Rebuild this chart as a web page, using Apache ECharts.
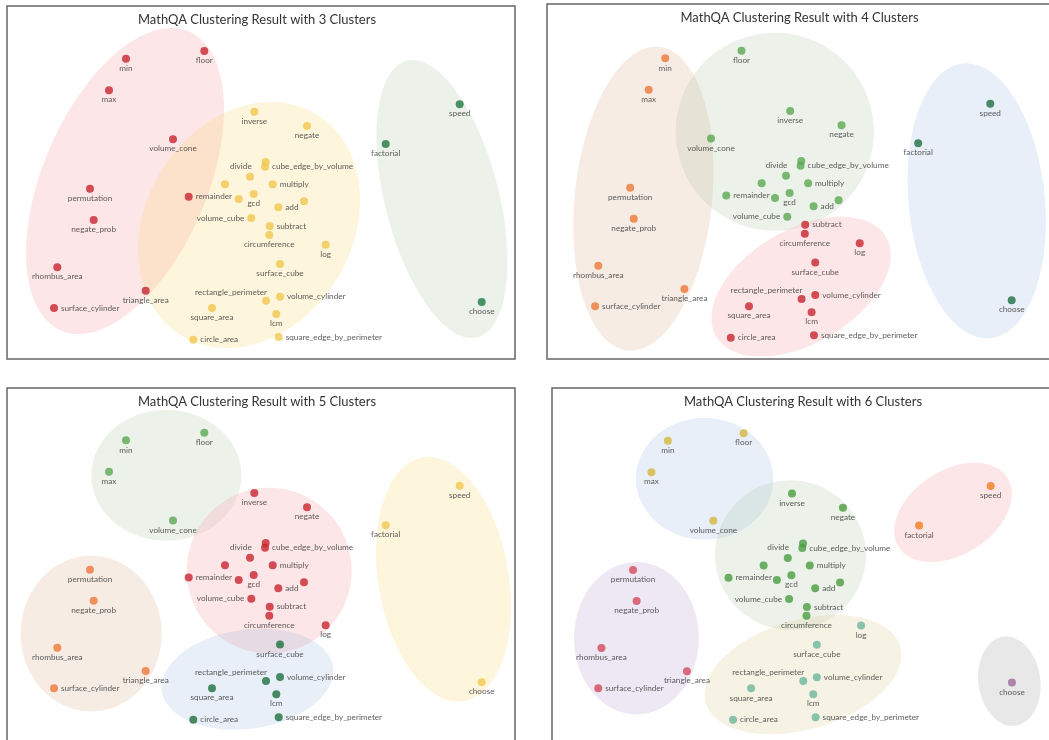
<!DOCTYPE html>
<html>
<head>
<meta charset="utf-8">
<script src="https://cdn.jsdelivr.net/npm/echarts@6/dist/echarts.min.js"></script>
<style>
  html, body { margin: 0; padding: 0; background: #fff; }
  #chart { width: 1049px; height: 740px; }
</style>
</head>
<body>
<div id="chart"></div>
<script>
// Same 2-D embedding is reused in every panel; only the cluster split changes.
const POINT_NAMES = [
  "min", "floor", "max", "volume_cone", "permutation", "negate_prob", "rhombus_area",
  "triangle_area", "surface_cylinder", "remainder", "inverse", "negate", "divide",
  "cube_edge_by_volume", "", "", "multiply", "", "gcd", "add", "", "volume_cube",
  "subtract", "circumference", "log", "surface_cube", "rectangle_perimeter",
  "volume_cylinder", "lcm", "square_area", "circle_area", "square_edge_by_perimeter",
  "factorial", "speed", "choose"
];
const POINT_X = [
  126.0, 204.3, 109.0, 173.0, 90.0, 93.7, 57.3, 145.7, 54.0, 188.7, 254.3, 307.0, 265.7,
  265.0, 250.0, 225.0, 272.7, 238.7, 253.7, 278.3, 304.0, 251.3, 269.7, 269.3, 325.7,
  280.0, 266.0, 280.0, 276.3, 212.0, 193.3, 278.7, 385.7, 459.7, 481.7
];
const POINT_Y = [
  58.7, 51.0, 90.3, 139.3, 188.7, 220.0, 267.3, 290.7, 308.0, 196.7, 111.7, 126.0, 162.0,
  166.7, 176.7, 184.3, 184.3, 199.0, 194.0, 207.3, 201.3, 218.0, 226.0, 235.0, 244.7,
  264.0, 300.7, 296.7, 314.0, 308.0, 339.7, 337.0, 144.0, 104.3, 302.0
];

const CLUSTERS_3 = [0,0,0,0,0,0,0,0,0,0, 1,1,1,1,1,1,1,1,1,1,1,1,1,1,1,1,1,1,1,1,1,1, 2,2,2];
const CLUSTERS_4 = [0,1,0,1,0,0,0,0,0,1, 1,1,1,1,1,1,1,1,1,1,1,1, 2,2,2,2,2,2,2,2,2,2, 3,3,3];
const CLUSTERS_5 = [0,0,0,0, 1,1,1,1,1, 2,2,2,2,2,2,2,2,2,2,2,2,2,2,2,2, 3,3,3,3,3,3,3, 4,4,4];
const CLUSTERS_6 = [0,0,0,0, 1,1,1,1,1, 2,2,2,2,2,2,2,2,2,2,2,2,2,2,2, 3,3,3,3,3,3,3,3, 4,4, 5];

// cluster hulls: [centre x, centre y, half width, half height, tilt (correlation)]
const ELLIPSES_3 = [[125, 181, 99, 153, -0.47], [249, 225, 111, 123, -0.2], [442, 199, 65.5, 139, 0.45]];
const ELLIPSES_4 = [[103.5, 199.8, 72, 152.8, -0.18], [238.5, 132.5, 101.7, 99.5, 0], [265.5, 288.3, 92, 70.3, -0.45], [445.8, 202, 71, 138.3, 0.15]];
const ELLIPSES_5 = [[166.3, 93.8, 75, 65.8, 0], [91.2, 253, 70.5, 78.3, 0], [269.2, 189.7, 82.5, 83.3, 0], [247.5, 298.8, 85.8, 50.8, -0.16], [443.5, 198.3, 67.5, 123, 0.22]];
const ELLIPSES_6 = [[164, 97, 71, 61.3, 0], [93.5, 257.5, 64.5, 76.7, 0], [252.7, 173.8, 78, 75.3, 0], [265.7, 294.2, 101.7, 60, -0.33], [420.8, 130.8, 60.8, 50, -0.37], [479, 300.8, 32.3, 45, 0.1]];

const TITLES = [
  "MathQA Clustering Result with 3 Clusters",
  "MathQA Clustering Result with 4 Clusters",
  "MathQA Clustering Result with 5 Clusters",
  "MathQA Clustering Result with 6 Clusters"
];

// styling
const FONT = "Lato, 'Open Sans', sans-serif";
const DOT_COLORS = [
  ["#c8242f", "#f1c84e", "#1d7a43"],
  ["#ee7838", "#5aa951", "#c8242f", "#1d7040"],
  ["#5aa951", "#ee7838", "#c8242f", "#1d7040", "#f3ca4c"],
  ["#d6b73e", "#d64a5c", "#4a9e3e", "#6eb79e", "#f47d21", "#a06b98"]
];
const PINK = "rgba(248,165,170,0.28)", YELLOW = "rgba(250,215,120,0.25)",
      SAGE = "rgba(160,185,150,0.2)", BEIGE = "rgba(215,160,120,0.2)",
      BLUE = "rgba(150,180,225,0.22)", PURPLE = "rgba(170,140,200,0.2)",
      OLIVE = "rgba(215,200,130,0.22)", GREY = "rgba(150,150,150,0.22)";
const HULL_COLORS = [
  [PINK, YELLOW, SAGE],
  [BEIGE, SAGE, PINK, BLUE],
  [SAGE, BEIGE, PINK, BLUE, YELLOW],
  [BLUE, PURPLE, SAGE, OLIVE, PINK, GREY]
];
const LABEL_SIDE = {
  remainder: "right", cube_edge_by_volume: "right", multiply: "right", add: "right",
  subtract: "right", volume_cylinder: "right", surface_cylinder: "right",
  circle_area: "right", square_edge_by_perimeter: "right",
  volume_cube: "left", divide: "left", rectangle_perimeter: "top"
};
const LABEL_OFFSET = { divide: [-7, 4], rectangle_perimeter: [-35, 1] };

// panel placement on the page (px) and frames
const PANELS = [
  { dx: 0, dy: 0, frame: [7, 6, 508, 353] },
  { dx: 542.5, dy: -2, frame: [547, 4, 540, 355] },
  { dx: 0, dy: 382, frame: [7, 388, 508, 380] },
  { dx: 546, dy: 382.5, frame: [552, 388, 540, 380] }
];

const CLUSTERS = [CLUSTERS_3, CLUSTERS_4, CLUSTERS_5, CLUSTERS_6];
const ELLIPSES = [ELLIPSES_3, ELLIPSES_4, ELLIPSES_5, ELLIPSES_6];

function renderEllipse(params, api) {
  const cx = api.value(0), cy = api.value(1), rx = api.value(2), ry = api.value(3), rho = api.value(4);
  const k = Math.sqrt(1 - rho * rho);
  const pts = [];
  for (let i = 0; i < 120; i++) {
    const t = i / 120 * Math.PI * 2;
    pts.push(api.coord([cx + rx * Math.cos(t), cy + ry * (rho * Math.cos(t) + k * Math.sin(t))]));
  }
  return { type: "polygon", shape: { points: pts }, style: { fill: api.visual("color") } };
}

function pointData(panel) {
  return POINT_NAMES.map((name, i) => {
    const side = LABEL_SIDE[name] || "bottom";
    return {
      value: [POINT_X[i], POINT_Y[i]],
      name: name,
      itemStyle: { color: DOT_COLORS[panel][CLUSTERS[panel][i]] },
      label: {
        show: name !== "",
        position: side,
        distance: side === "bottom" || side === "top" ? 1.5 : 3,
        offset: LABEL_OFFSET[name] || [0, 0]
      }
    };
  });
}

const chart = echarts.init(document.getElementById("chart"), null, { renderer: "canvas" });

const series = [];
PANELS.forEach((p, i) => {
  series.push({
    type: "custom",
    xAxisIndex: i, yAxisIndex: i,
    renderItem: renderEllipse,
    encode: { x: 0, y: 1 },
    clip: false,
    silent: true,
    z: 1,
    data: ELLIPSES[i].map((e, j) => ({ value: e, itemStyle: { color: HULL_COLORS[i][j] } }))
  });
  series.push({
    type: "scatter",
    xAxisIndex: i, yAxisIndex: i,
    symbolSize: 8,
    z: 3,
    label: {
      formatter: "{b}",
      fontFamily: FONT,
      fontSize: 8.2,
      color: "#333"
    },
    data: pointData(i)
  });
});

const graphics = [];
PANELS.forEach((p, i) => {
  graphics.push({
    type: "rect",
    shape: { x: p.frame[0], y: p.frame[1], width: p.frame[2], height: p.frame[3] },
    style: { fill: null, stroke: "#666", lineWidth: 1.5 },
    z: 10
  });
  graphics.push({
    type: "text",
    x: p.dx + 257, y: p.dy + 19.5,
    style: {
      text: TITLES[i], fill: "#333", font: "13px " + FONT,
      textAlign: "center", textVerticalAlign: "middle"
    },
    z: 10
  });
});

chart.setOption({
  animation: false,
  grid: PANELS.map(p => ({ left: p.dx, top: p.dy, width: 520, height: 360 })),
  xAxis: PANELS.map((p, i) => ({ gridIndex: i, type: "value", min: 0, max: 520, show: false })),
  yAxis: PANELS.map((p, i) => ({ gridIndex: i, type: "value", min: 0, max: 360, inverse: true, show: false })),
  graphic: graphics,
  series: series
});
</script>
</body>
</html>
